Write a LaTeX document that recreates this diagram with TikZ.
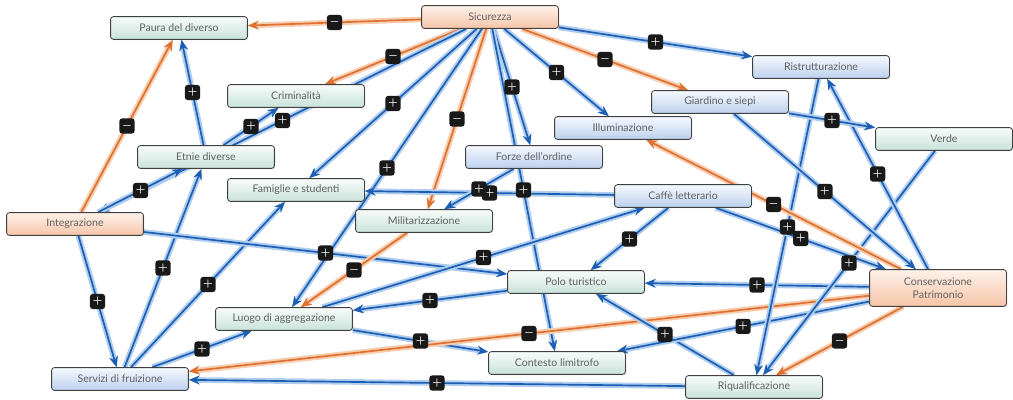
\documentclass[tikz,border=0pt]{standalone}
\usepackage{fontspec}
\setmainfont{Lato}
\usetikzlibrary{arrows.meta,shadows}
\pgfdeclarelayer{bg}
\pgfdeclarelayer{fg}
\pgfsetlayers{bg,main,fg}
\definecolor{linkblue}{RGB}{30,94,178}
\definecolor{glowblue}{RGB}{176,206,240}
\definecolor{linkorange}{RGB}{222,112,50}
\definecolor{gloworange}{RGB}{248,206,176}
\newcommand\pluslink[2]{%
\begin{pgfonlayer}{bg}\draw[bluelink] (#1) -- (#2);\end{pgfonlayer}
\begin{pgfonlayer}{fg}\path (#1) -- (#2) node[sgn, midway] (#1-#2) {$+$};\end{pgfonlayer}
}
\newcommand\minuslink[2]{%
\begin{pgfonlayer}{bg}\draw[orangelink] (#1) -- (#2);\end{pgfonlayer}
\begin{pgfonlayer}{fg}\path (#1) -- (#2) node[sgn, midway] (#1-#2) {$-$};\end{pgfonlayer}
}
\begin{document}
\begin{tikzpicture}[x=0.025cm, y=-0.025cm,
    box/.style={draw=black!75, line width=0.6pt, rounded corners=2pt,
      minimum width=3.42cm, minimum height=0.57cm, inner sep=1pt,
      font=\fontsize{7.5}{9}\selectfont, text=black!62,
      drop shadow={opacity=0.25, shadow xshift=0.6pt, shadow yshift=-0.6pt}},
    greenbox/.style={box, top color={rgb,255:red,248;green,252;blue,250}, bottom color={rgb,255:red,200;green,226;blue,216}},
    bluebox/.style={box, top color={rgb,255:red,246;green,249;blue,254}, bottom color={rgb,255:red,188;green,208;blue,238}},
    peachbox/.style={box, top color={rgb,255:red,254;green,242;blue,234}, bottom color={rgb,255:red,246;green,196;blue,168}},
    bluelink/.style={draw=linkblue, line width=1.2pt, -{Stealth[length=2.7mm,width=2.2mm]},
      preaction={draw=glowblue, line width=4pt}},
    orangelink/.style={draw=linkorange, line width=1.2pt, -{Stealth[length=2.7mm,width=2.2mm]},
      preaction={draw=gloworange, line width=4pt}},
    sgn/.style={fill=black!90, rounded corners=2pt, minimum size=0.38cm, inner sep=0pt,
      text=white, font=\scriptsize\boldmath}]
  \useasboundingbox (0,0) rectangle (1013,400);

  %% the factors
  \node[peachbox] (sic) at (490,17) {Sicurezza};
  \node[greenbox] (paura) at (179,28) {Paura del diverso};
  \node[greenbox] (crim) at (296,96) {Criminalità};
  \node[greenbox] (etnie) at (206,157) {Etnie diverse};
  \node[greenbox] (fam) at (296,190) {Famiglie e studenti};
  \node[peachbox] (integ) at (75,224) {Integrazione};
  \node[greenbox] (milit) at (424,221) {Militarizzazione};
  \node[bluebox] (forze) at (534,157) {Forze dell'ordine};
  \node[bluebox] (illum) at (623,128) {Illuminazione};
  \node[bluebox] (giard) at (720,102) {Giardino e siepi};
  \node[bluebox] (ristr) at (821,67) {Ristrutturazione};
  \node[greenbox] (verde) at (944,139) {Verde};
  \node[bluebox] (caffe) at (683,196) {Caffè letterario};
  \node[greenbox] (polo) at (576,282) {Polo turistico};
  \node[peachbox, minimum height=0.92cm, align=center] (cons) at (938,288) {Conservazione\\Patrimonio};
  \node[greenbox] (luogo) at (284,319) {Luogo di aggregazione};
  \node[greenbox] (cont) at (557,363) {Contesto limitrofo};
  \node[bluebox] (serv) at (120,379) {Servizi di fruizione};
  \node[greenbox] (riq) at (754,387) {Riqualificazione};

  % from Sicurezza
  \minuslink{sic}{paura}
  \minuslink{sic}{crim}
  \pluslink{sic}{fam}
  \pluslink{sic}{luogo}
  \minuslink{sic}{milit}
  \pluslink{sic}{forze}
  \pluslink{sic}{cont}
  \pluslink{sic}{illum}
  \minuslink{sic}{giard}
  \pluslink{sic}{ristr}
  \pluslink{sic}{integ}

  % left side
  \pluslink{etnie}{paura}
  \minuslink{integ}{paura}
  \pluslink{etnie}{crim}
  \pluslink{integ}{etnie}
  \pluslink{integ}{serv}
  \pluslink{serv}{etnie}
  \pluslink{serv}{fam}
  \pluslink{serv}{luogo}
  \pluslink{integ}{polo}
  \minuslink{milit}{luogo}

  % middle
  \pluslink{caffe}{fam}
  \pluslink{forze}{milit}
  \pluslink{caffe}{polo}
  \pluslink{luogo}{caffe}
  \pluslink{polo}{luogo}
  \pluslink{luogo}{cont}

  % right side
  \minuslink{cons}{serv}
  \pluslink{riq}{serv}
  \pluslink{riq}{polo}
  \pluslink{cons}{cont}
  \pluslink{cons}{polo}
  \minuslink{cons}{riq}
  \pluslink{verde}{riq}
  \pluslink{ristr}{riq}
  \pluslink{caffe}{cons}
  \minuslink{cons}{illum}
  \pluslink{giard}{cons}
  \pluslink{cons}{ristr}
  \pluslink{giard}{verde}

\end{tikzpicture}
\end{document}
